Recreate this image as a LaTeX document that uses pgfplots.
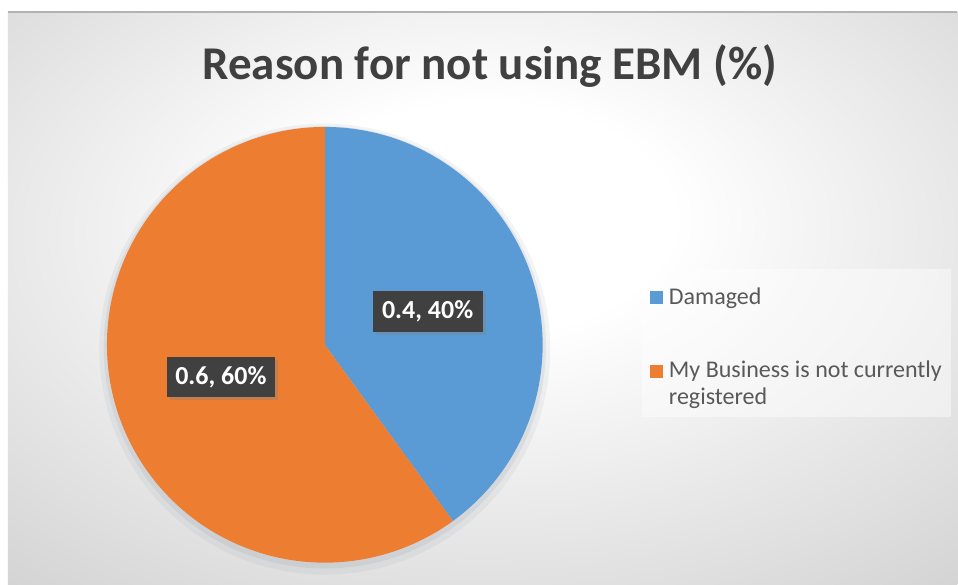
\documentclass[border=0pt]{standalone}
\usepackage{pgfplots}
\pgfplotsset{compat=1.18}
\usepackage{fontspec}
\setmainfont{Carlito}
\usetikzlibrary{shadows}
\definecolor{cblue}{HTML}{5B9BD5}
\definecolor{corange}{HTML}{ED7D31}
\definecolor{labelbg}{HTML}{404040}
\definecolor{titlec}{HTML}{404040}
\definecolor{legc}{HTML}{595959}
\definecolor{shadowc}{HTML}{8A96A3}
\pgfdeclareradialshading{bgshade}{\pgfpoint{0bp}{8bp}}{color(0bp)=(white); color(10bp)=(white); color(42bp)=(black!19); color(80bp)=(black!26)}
\begin{document}
\begin{tikzpicture}[x=0.5pt,y=0.5pt]
\fill[white] (0,0) rectangle (958,585);
\shade[shading=bgshade] (8,0) rectangle (958,573);
\draw[black!30, line width=0.6pt] (8,573) -- (958,573);
% legend background panel
\fill[white, opacity=0.45] (642,168) rectangle (952,316);
\node[font=\fontsize{23.5}{28}\selectfont\bfseries, text=titlec, anchor=base, inner sep=0pt] at (490,505) {Reason for not using EBM (\%)};
\begin{axis}[at={(53.5pt,11pt)}, anchor=south west,
  width=218pt, height=218pt, scale only axis,
  xmin=-1, xmax=1, ymin=-1, ymax=1, hide axis, clip=false,
  legend cell align=left,
  legend style={at={(1.227,0.674)}, anchor=north west,
    fill=none, draw=none,
    inner xsep=4pt, inner ysep=7pt,
    font=\fontsize{12}{13.5}\selectfont, text=legc,
    cells={anchor=base west}, row sep=22pt,
    /tikz/every odd column/.append style={column sep=1pt}},
]
% soft shadow under the pie
\fill[shadowc, opacity=0.10] (axis cs:0,-0.02) circle[radius=1.035];
\fill[shadowc, opacity=0.14] (axis cs:0,-0.012) circle[radius=1.015];
% Damaged: 0.4 -> clockwise from 12 o'clock
\addplot[fill=cblue, draw=none, domain=90:{90-360*0.4}, samples=120, variable=\t,
  legend image code/.code={\fill[cblue] (0,0) rectangle (6.5pt,6.5pt);}]
  ({cos(\t)},{sin(\t)}) -- (axis cs:0,0) -- cycle;
\addlegendentry{Damaged}
% My Business is not currently registered: 0.6
\addplot[fill=corange, draw=none, domain={90-360*0.4}:{90-360*(0.4+0.6)}, samples=160, variable=\t,
  legend image code/.code={\fill[corange] (0,0) rectangle (6.5pt,6.5pt);}]
  ({cos(\t)},{sin(\t)}) -- (axis cs:0,0) -- cycle;
\addlegendentry{\begin{tabular}[t]{@{}l@{}}My Business is not currently\\registered\end{tabular}}
\node[fill=labelbg, text=white, font=\fontsize{13}{15}\selectfont\bfseries,
  minimum width=55pt, minimum height=20.5pt, inner sep=0pt,
  drop shadow={shadow xshift=1.5pt, shadow yshift=-1.5pt, opacity=0.35}]
  at (axis cs:0.472,0.155) {0.4, 40\%};
\node[fill=labelbg, text=white, font=\fontsize{13}{15}\selectfont\bfseries,
  minimum width=54pt, minimum height=20pt, inner sep=0pt,
  drop shadow={shadow xshift=1.5pt, shadow yshift=-1.5pt, opacity=0.35}]
  at (axis cs:-0.477,-0.147) {0.6, 60\%};
\end{axis}
\end{tikzpicture}
\end{document}
